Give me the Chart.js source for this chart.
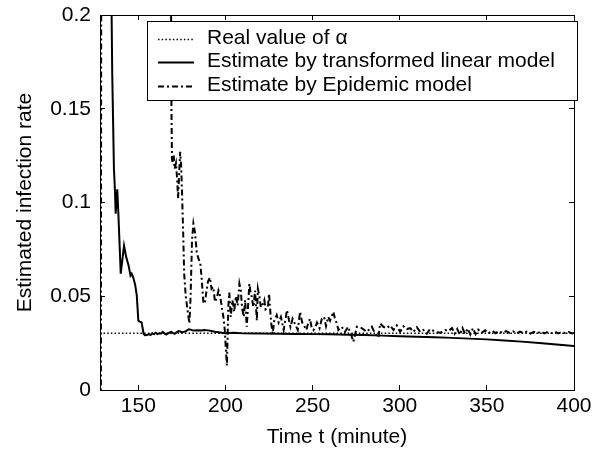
<!DOCTYPE html>
<html><head><meta charset="utf-8">
<script src="https://cdn.jsdelivr.net/npm/chart.js@4/dist/chart.umd.min.js"></script>
<style>html,body{margin:0;padding:0;background:#fff}canvas{display:block}</style>
</head><body>
<canvas id="c" width="604" height="451"></canvas>
<script>
// ---- data ----
const xTicks = [150, 200, 250, 300, 350, 400];
const xTickLabels = ['150', '200', '250', '300', '350', '400'];
const yTicks = [0, 0.05, 0.1, 0.15, 0.2];
const yTickLabels = ['0', '0.05', '0.1', '0.15', '0.2'];
const seriesLabels = ['Real value of \u03b1', 'Estimate by transformed linear model', 'Estimate by Epidemic model'];

const realT = [130, 400];
const realV = [0.0303, 0.0303];

const linT = [128, 132, 134, 135, 136, 136.6, 137.0, 137.9, 138.5, 139.9, 141.8, 143, 144.5, 145.5, 146.2, 147.1, 148.2, 149.1, 150.0, 150.8, 151.9, 153.0, 153.8, 155, 156, 157, 158, 159, 160, 161, 162, 163, 164, 165, 166, 167, 168, 169, 170, 171, 172, 173, 174, 175, 176, 177, 178, 179, 180, 181, 182, 184, 186, 188, 190, 192, 194, 196, 198, 200, 205, 210, 220, 230, 240, 250, 260, 270, 280, 290, 300, 310, 320, 330, 340, 350, 360, 370, 380, 390, 400];
const linV = [0.6, 0.4, 0.26, 0.17, 0.118, 0.106, 0.094, 0.107, 0.095, 0.062, 0.077, 0.071, 0.066, 0.061, 0.062, 0.060, 0.056, 0.0505, 0.037, 0.0365, 0.036, 0.030, 0.0292, 0.0293, 0.0298, 0.0293, 0.0302, 0.0298, 0.0305, 0.0298, 0.0302, 0.0300, 0.0310, 0.0302, 0.0296, 0.0302, 0.0307, 0.0310, 0.0302, 0.0300, 0.0308, 0.0314, 0.0312, 0.0308, 0.0310, 0.0312, 0.0318, 0.0324, 0.0322, 0.0318, 0.0317, 0.0319, 0.0318, 0.0320, 0.0318, 0.0315, 0.0311, 0.0308, 0.0305, 0.0303, 0.0305, 0.0302, 0.0301, 0.0300, 0.0299, 0.0298, 0.0297, 0.0295, 0.0293, 0.0290, 0.0287, 0.0284, 0.0281, 0.0278, 0.0274, 0.0270, 0.0264, 0.0258, 0.0251, 0.0243, 0.0234];

const epiT = [128.5, 129.0, 145, 160, 168.4, 169.0, 169.3, 169.8, 170.3, 170.8, 171.6, 172.3, 172.8, 173.5, 174.0, 174.6, 175.1, 175.7, 176.3, 177.2, 178.3, 179.3, 180.0, 180.8, 181.6, 182.5, 183.5, 184.5, 185.5, 186.3, 187.3, 188.2, 189.0, 190.0, 191.1, 192.0, 193.0, 194.0, 195.0, 196.0, 197.0, 197.9, 198.8, 199.6, 200.2, 200.8, 201.2, 201.6, 202.2, 203.0, 204.0, 205.0, 206.0, 207.0, 208.0, 208.8, 209.5, 210.5, 211.3, 212.2, 213.0, 213.7, 214.4, 215.1, 216.0, 217.0, 218.0, 218.6, 219.5, 220.3, 221.5, 222.3, 223.0, 224.3, 225.0, 226.2, 227.1, 228.0, 229.4, 230.5, 231.8, 233.4, 235.3, 236.5, 237.3, 238.5, 240.0, 241.5, 242.8, 244.0, 245.3, 246.4, 247.6, 248.5, 249.5, 250.5, 251.7, 252.5, 254.0, 255.3, 256.6, 257.7, 259.0, 260.0, 261.9, 262.9, 263.9, 264.8, 266.7, 268.6, 270.4, 272.5, 273.4, 275.4, 278.2, 281.1, 284.0, 285.9, 287.8, 288.7, 290.6, 292.6, 294.5, 296.4, 298.3, 300.2, 302.1, 304.1, 306.0, 307.9, 309.8, 311.7, 313.6, 315.5, 317.4, 320.3, 323.2, 326.0, 328, 330, 331.5, 333, 334.5, 336, 337.5, 339, 340.5, 342, 343.5, 345, 347, 349, 351, 353, 355, 357, 359, 361, 363, 365, 367, 369, 371, 373, 375, 377, 379, 381, 383, 385, 387, 389, 391, 393, 395, 397, 399, 400];
const epiV = [-0.02, 0.6, 0.5, 0.4, 0.3, 0.150, 0.123, 0.121, 0.125, 0.118, 0.121, 0.112, 0.102, 0.117, 0.127, 0.119, 0.104, 0.085, 0.062, 0.050, 0.042, 0.0355, 0.050, 0.080, 0.0887, 0.084, 0.0736, 0.070, 0.068, 0.060, 0.047, 0.046, 0.052, 0.058, 0.060, 0.054, 0.055, 0.047, 0.049, 0.053, 0.050, 0.044, 0.039, 0.032, 0.022, 0.013, 0.027, 0.044, 0.052, 0.039, 0.048, 0.0417, 0.050, 0.045, 0.0567, 0.053, 0.044, 0.039, 0.048, 0.0337, 0.045, 0.0567, 0.052, 0.0496, 0.0443, 0.053, 0.037, 0.054, 0.050, 0.044, 0.046, 0.048, 0.043, 0.044, 0.0514, 0.036, 0.030, 0.037, 0.040, 0.036, 0.039, 0.032, 0.0426, 0.037, 0.0337, 0.038, 0.035, 0.032, 0.0417, 0.036, 0.034, 0.032, 0.036, 0.038, 0.033, 0.032, 0.034, 0.036, 0.033, 0.038, 0.039, 0.034, 0.039, 0.037, 0.0417, 0.0377, 0.0355, 0.032, 0.0337, 0.031, 0.0337, 0.0284, 0.0257, 0.0337, 0.033, 0.031, 0.0337, 0.030, 0.028, 0.0355, 0.0337, 0.033, 0.0345, 0.032, 0.0345, 0.031, 0.034, 0.0325, 0.033, 0.031, 0.0335, 0.031, 0.032, 0.030, 0.0325, 0.031, 0.0305, 0.032, 0.0315, 0.033, 0.030, 0.0325, 0.0295, 0.033, 0.030, 0.0328, 0.0296, 0.033, 0.0298, 0.0322, 0.0305, 0.0318, 0.0302, 0.0316, 0.0303, 0.0315, 0.0304, 0.0314, 0.0305, 0.0313, 0.0302, 0.0312, 0.0304, 0.0311, 0.0301, 0.0310, 0.0303, 0.0312, 0.0302, 0.0310, 0.0303, 0.0311, 0.0302, 0.0310, 0.0303, 0.0309, 0.0302, 0.0305];

// ---- helpers ----
const pts = (t, v) => t.map((x, i) => ({x: x, y: v[i]}));
const FONT = 'Liberation Sans, Arial, Helvetica, sans-serif';
const AREA = {left: 100, top: 15, right: 574, bottom: 390};

const boxLegend = {
  id: 'boxLegend',
  afterDraw(chart) {
    const ctx = chart.ctx;
    const L = 147, T = 21, R = 578, B = 101;
    ctx.save();
    ctx.fillStyle = '#fff';
    ctx.fillRect(L, T, R - L, B - T);
    ctx.strokeStyle = '#000';
    ctx.lineWidth = 1;
    ctx.strokeRect(L + 0.5, T + 0.5, R - L - 1, B - T - 1);
    const rows = [38.5, 61.5, 85.5];
    chart.data.datasets.forEach((ds, i) => {
      const y = Math.round(rows[i]) + 0.5;
      ctx.beginPath();
      ctx.setLineDash(ds.borderDash || []);
      ctx.lineWidth = Math.min(ds.borderWidth, 2);
      ctx.strokeStyle = ds.borderColor;
      ctx.moveTo(158, y);
      ctx.lineTo(194, y);
      ctx.stroke();
      ctx.setLineDash([]);
      ctx.fillStyle = '#000';
      ctx.font = '21px ' + FONT;
      ctx.textBaseline = 'middle';
      ctx.textAlign = 'left';
      ctx.fillText(ds.label, 207, rows[i]);
    });
    ctx.restore();
  }
};

const axisCommon = {
  border: {display: true, color: '#000', width: 1},
  grid: {display: true, drawOnChartArea: false, drawTicks: true, tickLength: -5, color: '#000'}
};
const noPad = s => { s.paddingTop = 0; s.paddingBottom = 0; s.paddingLeft = 0; s.paddingRight = 0; };

const chart = new Chart(document.getElementById('c'), {
  type: 'line',
  data: {
    datasets: [
      {label: seriesLabels[0], data: pts(realT, realV), borderColor: '#000', borderWidth: 1.4, borderDash: [1.5, 2.2], pointRadius: 0, fill: false, order: 2},
      {label: seriesLabels[1], data: pts(linT, linV), borderColor: '#000', borderWidth: 2, pointRadius: 0, fill: false, order: 1},
      {label: seriesLabels[2], data: pts(epiT, epiV), borderColor: '#000', borderWidth: 2, borderDash: [6, 3, 2, 3], pointRadius: 0, fill: false, order: 0}
    ]
  },
  options: {
    responsive: false,
    animation: false,
    devicePixelRatio: 1,
    layout: {padding: {left: 0, top: 15, right: 30, bottom: 0}},
    plugins: {legend: {display: false}, tooltip: {enabled: false}},
    elements: {line: {tension: 0}},
    scales: {
      x: Object.assign({}, axisCommon, {
        type: 'linear', position: 'bottom', min: 128, max: 400,
        afterBuildTicks: s => { s.ticks = xTicks.map(v => ({value: v})); },
        afterFit: s => { s.height = 61; noPad(s); },
        ticks: {color: '#000', font: {family: FONT, size: 21}, padding: 9, maxRotation: 0,
          callback: (v, i) => xTickLabels[i]},
        title: {display: true, text: 'Time t (minute)', color: '#000', font: {family: FONT, size: 21}, padding: {top: 0, bottom: 1}}
      }),
      x2: Object.assign({}, axisCommon, {
        type: 'linear', position: 'top', min: 128, max: 400,
        afterBuildTicks: s => { s.ticks = xTicks.map(v => ({value: v})); },
        afterFit: s => { s.height = 0; noPad(s); },
        ticks: {display: false}
      }),
      y: Object.assign({}, axisCommon, {
        type: 'linear', position: 'left', min: 0, max: 0.2,
        afterBuildTicks: s => { s.ticks = yTicks.map(v => ({value: v})); },
        afterFit: s => { s.width = 100; noPad(s); },
        ticks: {color: '#000', font: {family: FONT, size: 21}, padding: 14,
          callback: (v, i) => yTickLabels[i]},
        title: {display: true, text: 'Estimated infection rate', color: '#000', font: {family: FONT, size: 21}, padding: {top: 13, bottom: 0}}
      }),
      y2: Object.assign({}, axisCommon, {
        type: 'linear', position: 'right', min: 0, max: 0.2,
        afterBuildTicks: s => { s.ticks = yTicks.map(v => ({value: v})); },
        afterFit: s => { s.width = 0; noPad(s); },
        ticks: {display: false}
      })
    }
  },
  plugins: [boxLegend]
});

// nudge the layout padding so the plot box sits where the reference has it
for (let k = 0; k < 3; k++) {
  const a = chart.chartArea;
  const p = chart.config.options.layout.padding;
  const dTop = a.top - AREA.top, dBottom = AREA.bottom - a.bottom;
  const dLeft = a.left - AREA.left, dRight = AREA.right - a.right;
  if (Math.abs(dTop) < 0.3 && Math.abs(dBottom) < 0.3 && Math.abs(dLeft) < 0.3 && Math.abs(dRight) < 0.3) break;
  chart.config.options.layout.padding = {top: p.top - dTop, bottom: p.bottom - dBottom, left: p.left - dLeft, right: p.right - dRight};
  chart.update();
}
</script>
</body></html>
